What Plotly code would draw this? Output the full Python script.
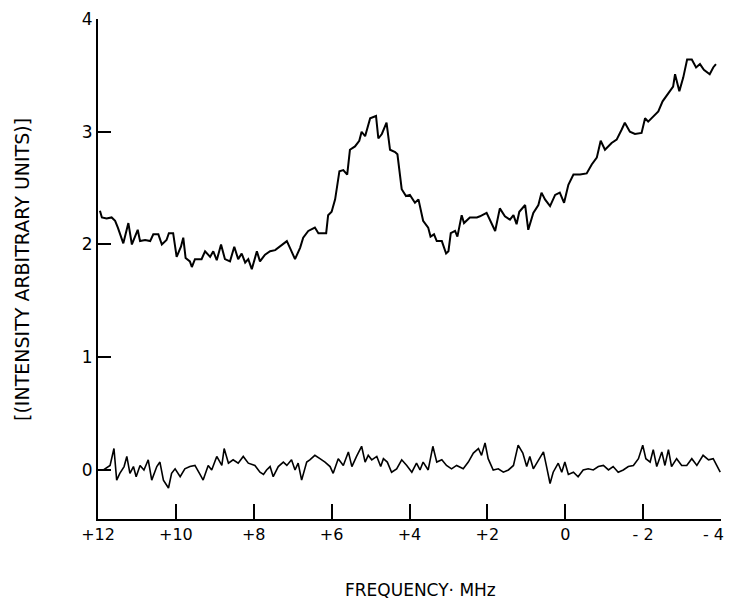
import plotly.graph_objects as go

# Upper spectrum (frequency in MHz, intensity in arbitrary units)
upper_freq = [11.95, 11.90, 11.78, 11.65, 11.56, 11.49, 11.35, 11.22, 11.13, 10.98,
              10.92, 10.79, 10.66, 10.58, 10.45, 10.36, 10.24, 10.18, 10.07, 9.98,
              9.87, 9.81, 9.75, 9.64, 9.59, 9.51, 9.34, 9.25, 9.12, 9.04,
              8.95, 8.84, 8.74, 8.61, 8.50, 8.40, 8.31, 8.22, 8.14, 8.05,
              7.92, 7.84, 7.71, 7.58, 7.45, 7.33, 7.15, 7.07, 6.94,
              6.81, 6.73, 6.60, 6.43, 6.34, 6.14, 6.09, 6.00,
              5.91, 5.85, 5.80, 5.70, 5.60, 5.53, 5.40, 5.29, 5.23, 5.14,
              5.01, 4.86, 4.80, 4.71, 4.59, 4.50, 4.37, 4.31, 4.20, 4.09,
              3.99, 3.86, 3.77, 3.65, 3.52, 3.46, 3.37, 3.30, 3.17, 3.06,
              3.00, 2.94, 2.83, 2.77, 2.66, 2.60, 2.45, 2.27,
              2.19, 2.02, 1.93, 1.80, 1.68, 1.55, 1.42, 1.33, 1.25, 1.18,
              1.03, 0.95, 0.82, 0.69, 0.61, 0.52, 0.39, 0.26, 0.14, 0.03,
              -0.08, -0.21, -0.38, -0.55, -0.68, -0.81, -0.91, -1.02, -1.19, -1.32,
              -1.45, -1.53, -1.66, -1.79, -1.96, -2.05, -2.13, -2.26, -2.39, -2.50,
              -2.60, -2.69, -2.77, -2.82, -2.93, -3.03, -3.13, -3.25, -3.36, -3.46,
              -3.56, -3.71, -3.80, -3.87]
upper_int = [2.30, 2.24, 2.23, 2.24, 2.21, 2.15, 2.01, 2.19, 2.00, 2.13,
             2.03, 2.04, 2.03, 2.09, 2.09, 2.00, 2.04, 2.10, 2.10, 1.89,
             1.98, 2.06, 1.88, 1.85, 1.80, 1.87, 1.87, 1.94, 1.89, 1.94,
             1.86, 2.00, 1.87, 1.85, 1.98, 1.87, 1.92, 1.84, 1.87, 1.78,
             1.94, 1.85, 1.91, 1.94, 1.95, 1.98, 2.03, 1.97, 1.87,
             1.97, 2.06, 2.12, 2.15, 2.10, 2.10, 2.26, 2.29,
             2.40, 2.55, 2.65, 2.66, 2.62, 2.84, 2.87, 2.92, 3.00, 2.96,
             3.12, 3.14, 2.94, 2.98, 3.08, 2.84, 2.82, 2.80, 2.49, 2.43,
             2.44, 2.37, 2.40, 2.21, 2.15, 2.07, 2.09, 2.03, 2.03, 1.92,
             1.94, 2.10, 2.12, 2.07, 2.26, 2.19, 2.24, 2.24,
             2.25, 2.28, 2.22, 2.12, 2.32, 2.25, 2.22, 2.26, 2.18, 2.29,
             2.35, 2.13, 2.28, 2.35, 2.46, 2.40, 2.34, 2.44, 2.46, 2.37,
             2.53, 2.62, 2.62, 2.63, 2.71, 2.77, 2.92, 2.84, 2.90, 2.93,
             3.02, 3.08, 3.00, 2.98, 2.99, 3.12, 3.09, 3.14, 3.18, 3.27,
             3.32, 3.36, 3.40, 3.51, 3.36, 3.48, 3.64, 3.64, 3.57, 3.60,
             3.55, 3.51, 3.57, 3.60]

# Baseline (noise) trace
lower_freq = [11.86, 11.69, 11.59, 11.52, 11.44, 11.33, 11.26, 11.18, 11.09, 11.02,
              10.92, 10.82, 10.71, 10.62, 10.49, 10.41, 10.32, 10.19, 10.11, 10.02,
              9.89, 9.77, 9.64, 9.51, 9.38, 9.30, 9.17, 9.08, 8.95, 8.82,
              8.76, 8.65, 8.53, 8.40, 8.27, 8.14, 7.97, 7.84, 7.75, 7.67,
              7.58, 7.50, 7.37, 7.24, 7.15, 7.03, 6.94, 6.86, 6.77, 6.64,
              6.56, 6.43, 6.30, 6.17, 6.04, 5.96, 5.83, 5.70, 5.57, 5.48,
              5.36, 5.23, 5.14, 5.06, 4.97, 4.84, 4.74, 4.67, 4.57, 4.46,
              4.33, 4.20, 4.07, 3.94, 3.82, 3.73, 3.65, 3.52, 3.40, 3.30,
              3.17, 3.05, 2.92, 2.79, 2.62, 2.49, 2.36, 2.23, 2.15, 2.06,
              1.98, 1.85, 1.72, 1.59, 1.46, 1.33, 1.21, 1.09, 0.99, 0.91,
              0.82, 0.69, 0.56, 0.48, 0.39, 0.31, 0.18, 0.09, 0.01, -0.08,
              -0.21, -0.33, -0.46, -0.59, -0.72, -0.85, -0.98, -1.11, -1.23, -1.36,
              -1.49, -1.62, -1.75, -1.88, -1.99, -2.07, -2.18, -2.26, -2.35, -2.48,
              -2.56, -2.65, -2.73, -2.86, -2.99, -3.12, -3.25, -3.38, -3.54, -3.68,
              -3.80, -3.89, -3.98]
lower_int = [0.00, 0.04, 0.19, -0.09, -0.03, 0.03, 0.12, -0.03, 0.03, -0.06,
             0.04, 0.00, 0.09, -0.09, 0.03, 0.07, -0.09, -0.16, -0.03, 0.01,
             -0.06, 0.01, 0.03, 0.04, -0.04, -0.09, 0.04, 0.00, 0.12, 0.04,
             0.19, 0.06, 0.09, 0.06, 0.12, 0.06, 0.04, -0.02, -0.04, 0.00,
             0.03, -0.06, 0.03, 0.07, 0.04, 0.09, 0.00, 0.06, -0.09, 0.07,
             0.09, 0.13, 0.10, 0.07, 0.03, -0.03, 0.10, 0.04, 0.16, 0.03,
             0.12, 0.21, 0.07, 0.13, 0.09, 0.12, 0.03, 0.10, 0.07, -0.02,
             0.01, 0.09, 0.04, -0.02, 0.06, 0.00, 0.07, 0.00, 0.21, 0.07,
             0.09, 0.04, 0.01, 0.04, 0.01, 0.07, 0.15, 0.19, 0.13, 0.24,
             0.10, 0.00, 0.01, -0.02, 0.00, 0.04, 0.22, 0.15, 0.03, 0.12,
             0.01, 0.09, 0.16, 0.03, -0.12, -0.02, 0.06, -0.02, 0.07, -0.04,
             -0.02, -0.06, 0.00, 0.01, 0.00, 0.03, 0.04, 0.00, 0.03, -0.02,
             0.00, 0.03, 0.04, 0.10, 0.22, 0.10, 0.07, 0.18, 0.03, 0.16,
             0.04, 0.18, 0.03, 0.10, 0.04, 0.04, 0.10, 0.04, 0.13, 0.09,
             0.10, 0.04, -0.02]

x_tick_vals = [12, 10, 8, 6, 4, 2, 0, -2, -4]
# the last label ("- 4") sits left of its tick in the original; drawn as an annotation
x_tick_text = ["+12", "+10", "+8", "+6", "+4", "+2", "0", "- 2", ""]
last_x_val = -4
last_x_label = "- 4"
y_tick_vals = [0, 1, 2, 3, 4]
y_tick_text = ["0", "1", "2", "3", "4"]

FONT = "DejaVu Sans"

fig = go.Figure()
fig.add_trace(go.Scatter(x=upper_freq, y=upper_int, mode="lines",
                         line=dict(color="black", width=2), showlegend=False,
                         hoverinfo="skip"))
fig.add_trace(go.Scatter(x=lower_freq, y=lower_int, mode="lines",
                         line=dict(color="black", width=1.6), showlegend=False,
                         hoverinfo="skip"))

fig.update_layout(
    width=729, height=604,
    margin=dict(l=98, r=8, t=19, b=85),
    paper_bgcolor="white", plot_bgcolor="white",
    font=dict(family=FONT, color="black", size=16),
    xaxis=dict(range=[12, -4], showgrid=False, zeroline=False, automargin=False,
               showline=True, linecolor="black", linewidth=2,
               ticks="inside", ticklen=15, tickwidth=1.5, tickcolor="black",
               tickvals=x_tick_vals, ticktext=x_tick_text,
               tickfont=dict(family=FONT, size=16)),
    yaxis=dict(range=[-0.435, 4.0], showgrid=False, zeroline=False, automargin=False,
               showline=True, linecolor="black", linewidth=2,
               ticks="inside", ticklen=13, tickwidth=1.5, tickcolor="black",
               tickvals=y_tick_vals, ticktext=y_tick_text,
               tickfont=dict(family=FONT, size=17)),
    annotations=[
        dict(text="[(INTENSITY ARBITRARY UNITS)]", xref="paper", yref="paper",
             x=-0.122, y=0.5, xanchor="center", yanchor="middle",
             textangle=-90, showarrow=False,
             font=dict(family=FONT, size=19, color="black")),
        dict(text="FREQUENCY\u00b7 MHz", xref="paper", yref="paper",
             x=0.517, y=-0.142, xanchor="center", yanchor="middle",
             showarrow=False,
             font=dict(family=FONT, size=17, color="black")),
        dict(text=last_x_label, xref="x", yref="paper",
             x=last_x_val, xanchor="right", xshift=5, y=-0.031, yanchor="middle",
             showarrow=False, font=dict(family=FONT, size=16, color="black")),
    ],
)

# remove the default page margin so the 729x604 figure fills the window exactly
fig.write_html("out.html",
               config={"displayModeBar": False},
               post_script="document.body.style.margin='0';"
                           "document.body.style.overflow='hidden';")
